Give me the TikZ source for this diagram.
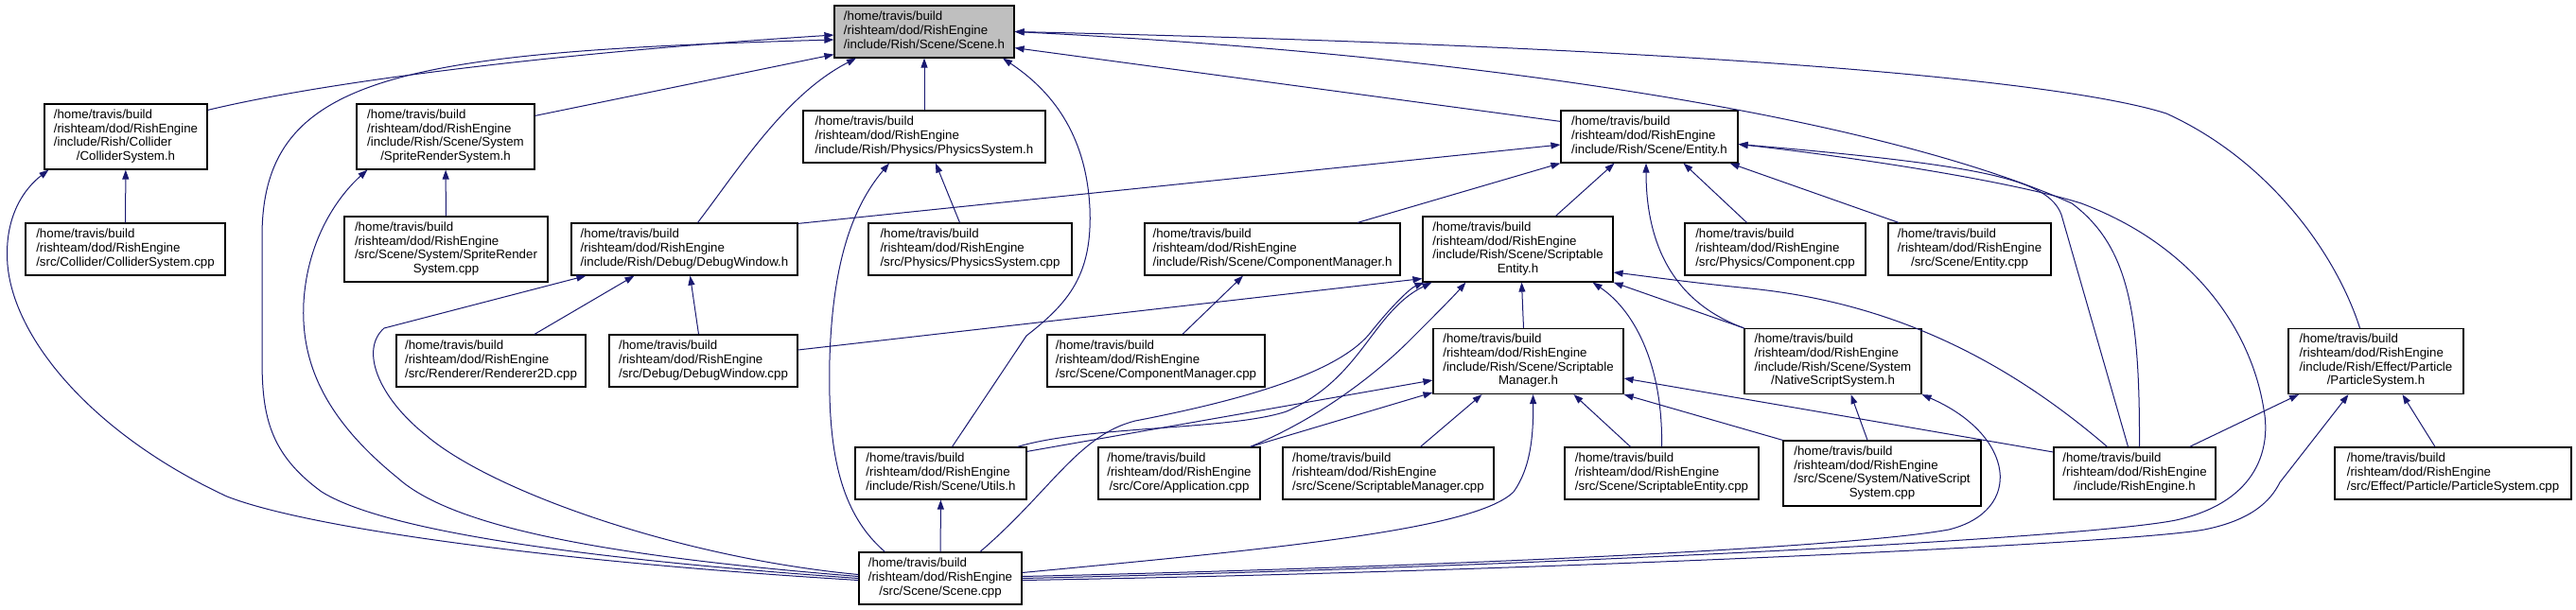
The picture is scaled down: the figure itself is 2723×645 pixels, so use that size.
\documentclass[tikz,border=0pt]{standalone}
\usepackage{fontspec}
\setmainfont{Liberation Sans}
\usetikzlibrary{arrows.meta}
\definecolor{edgeblue}{HTML}{191970}
\definecolor{rootgray}{HTML}{BFBFBF}
\newcommand{\fpath}[2]{\begin{tabular}{@{}l@{}}/home/travis/build\\/rishteam/dod/RishEngine#1\\\multicolumn{1}{@{}c@{}}{#2}\end{tabular}}

\begin{document}
\begin{tikzpicture}[x=1pt,y=-1pt,font=\fontsize{13.3}{14.7}\selectfont,
  file/.style={draw=black,line width=1.2pt,fill=white,inner xsep=6pt,inner ysep=4pt,minimum height=55pt},
  tall/.style={minimum height=69pt},
  dep/.style={draw=edgeblue,line width=1pt,-{Triangle[length=10pt,width=7pt]}}]
\useasboundingbox (0,0) rectangle (2723,645);
% root
\node[file,fill=rootgray,minimum width=190pt] (sceneh) at (977,33.5) {\fpath{}{/include/Rish/Scene/Scene.h}};
% row 1
\node[file,tall,minimum width=172pt] (colliderh) at (133,144.5) {\fpath{\\/include/Rish/Collider}{/ColliderSystem.h}};
\node[file,tall,minimum width=188pt] (spriteh) at (471,144.5) {\fpath{\\/include/Rish/Scene/System}{/SpriteRenderSystem.h}};
\node[file,minimum width=256pt] (physicsh) at (977,144.5) {\fpath{}{/include/Rish/Physics/PhysicsSystem.h}};
\node[file,minimum width=187pt] (entityh) at (1743.5,144.5) {\fpath{}{/include/Rish/Scene/Entity.h}};
% row 2
\node[file,minimum width=211pt] (collidercpp) at (132.5,263.5) {\fpath{}{/src/Collider/ColliderSystem.cpp}};
\node[file,tall,minimum width=215pt] (spritecpp) at (471.5,263.5) {\fpath{\\/src/Scene/System/SpriteRender}{System.cpp}};
\node[file,minimum width=239pt] (debugh) at (723.5,263.5) {\fpath{}{/include/Rish/Debug/DebugWindow.h}};
\node[file,minimum width=215pt] (physicscpp) at (1025.5,263.5) {\fpath{}{/src/Physics/PhysicsSystem.cpp}};
\node[file,minimum width=270pt] (compmgrh) at (1345,263.5) {\fpath{}{/include/Rish/Scene/ComponentManager.h}};
\node[file,tall,minimum width=201pt] (scriptenth) at (1604.5,263.5) {\fpath{\\/include/Rish/Scene/Scriptable}{Entity.h}};
\node[file,minimum width=191pt] (componentcpp) at (1876.5,263.5) {\fpath{}{/src/Physics/Component.cpp}};
\node[file,minimum width=172pt] (entitycpp) at (2082,263.5) {\fpath{}{/src/Scene/Entity.cpp}};
% row 3
\node[file,minimum width=200pt] (renderercpp) at (519,381.5) {\fpath{}{/src/Renderer/Renderer2D.cpp}};
\node[file,minimum width=199pt] (debugcpp) at (743.5,381.5) {\fpath{}{/src/Debug/DebugWindow.cpp}};
\node[file,minimum width=230pt] (compmgrcpp) at (1222,381.5) {\fpath{}{/src/Scene/ComponentManager.cpp}};
\node[file,tall,minimum width=201pt] (scriptmgrh) at (1615.5,382) {\fpath{\\/include/Rish/Scene/Scriptable}{Manager.h}};
\node[file,tall,minimum width=187pt] (nativeh) at (1937.5,382) {\fpath{\\/include/Rish/Scene/System}{/NativeScriptSystem.h}};
\node[file,tall,minimum width=185pt] (particleh) at (2511.5,382) {\fpath{\\/include/Rish/Effect/Particle}{/ParticleSystem.h}};
% row 4
\node[file,minimum width=181pt] (utilsh) at (994.5,500.5) {\fpath{}{/include/Rish/Scene/Utils.h}};
\node[file,minimum width=171pt] (appcpp) at (1246.5,500.5) {\fpath{}{/src/Core/Application.cpp}};
\node[file,minimum width=223pt] (scriptmgrcpp) at (1467.5,500.5) {\fpath{}{/src/Scene/ScriptableManager.cpp}};
\node[file,minimum width=205pt] (scriptentcpp) at (1756.5,500.5) {\fpath{}{/src/Scene/ScriptableEntity.cpp}};
\node[file,tall,minimum width=209pt] (nativecpp) at (1989.5,500.5) {\fpath{\\/src/Scene/System/NativeScript}{System.cpp}};
\node[file,minimum width=171pt] (rishh) at (2256.5,500.5) {\fpath{}{/include/RishEngine.h}};
\node[file,minimum width=250pt] (particlecpp) at (2593,500.5) {\fpath{}{/src/Effect/Particle/ParticleSystem.cpp}};
% row 5
\node[file,minimum width=172pt] (scenecpp) at (994,611.5) {\fpath{}{/src/Scene/Scene.cpp}};

% into Scene.h
\draw[dep] ([yshift=-7pt]colliderh.north east) .. controls (350,85) and (600,55) .. ([yshift=-3.5pt]sceneh.west);
\draw[dep] (scenecpp.west) .. controls (700,597) and (420,570) .. (340,520) .. controls (285,480) and (277,440) .. (277,380) -- (277,250) .. controls (277,80) and (420,55) .. ([yshift=-8.5pt]sceneh.west);
\draw[dep] ([yshift=-13pt]spriteh.north east) -- ([yshift=4pt]sceneh.south west);
\draw[dep] ([xshift=14pt]debugh.north) .. controls (780,180) and (830,100) .. ([xshift=-72pt]sceneh.south);
\draw[dep] (physicsh) -- (sceneh);
\draw[dep] ([xshift=12pt]utilsh.north) -- (1085,355) .. controls (1130,320) and (1155,290) .. (1152,220) .. controls (1148,140) and (1110,95) .. ([xshift=83pt]sceneh.south);
\draw[dep] ([yshift=-12pt]entityh.north west) -- ([yshift=11pt]sceneh.south east);
\draw[dep] ([xshift=5pt]rishh.north) .. controls (2262,330) and (2250,260) .. (2190,215) .. controls (2000,130) and (1600,60) .. (sceneh.east);
\draw[dep] ([xshift=-17pt]particleh.north) .. controls (2470,270) and (2400,170) .. (2290,120) .. controls (2180,85) and (1800,50) .. (sceneh.east);
% collider, sprite, physics
\draw[dep] (collidercpp) -- (colliderh);
\draw[dep] ([yshift=-2pt]scenecpp.west) .. controls (600,595) and (330,560) .. (240,525) .. controls (100,460) and (15,360) .. (8,280) .. controls (4,230) and (25,200) .. ([xshift=5pt]colliderh.south west);
\draw[dep] (spritecpp) -- (spriteh);
\draw[dep] ([yshift=2pt]scenecpp.west) .. controls (600,585) and (470,550) .. (420,505) .. controls (340,440) and (318,380) .. (321,320) .. controls (325,250) and (360,205) .. ([xshift=12pt]spriteh.south west);
\draw[dep] ([xshift=-11pt]physicscpp.north) -- ([xshift=12pt]physicsh.south);
\draw[dep] ([xshift=28pt]scenecpp.north west) .. controls (885,540) and (875,470) .. (877,380) .. controls (880,280) and (900,220) .. ([xshift=-37pt]physicsh.south);
% into DebugWindow.h
\draw[dep] ([xshift=46pt]renderercpp.north) -- ([xshift=-53pt]debugh.south);
\draw[dep] ([xshift=-5pt]debugcpp.north) -- ([xshift=6pt]debugh.south);
\draw[dep] ([yshift=4pt]scenecpp.west) .. controls (720,590) and (520,520) .. (450,460) .. controls (400,420) and (380,370) .. (406,347) -- ([xshift=16pt]debugh.south west);
% into Entity.h
\draw[dep] ([yshift=-1pt]debugh.north east) -- ([yshift=-8.5pt]entityh.west);
\draw[dep] ([xshift=90pt]compmgrh.north) -- (entityh.south west);
\draw[dep] ([xshift=40pt]scriptenth.north) -- ([xshift=-37pt]entityh.south);
\draw[dep] (nativeh.north west) .. controls (1770,320) and (1740,260) .. ([xshift=-3.5pt]entityh.south);
\draw[dep] ([xshift=-30pt]componentcpp.north) -- ([xshift=36pt]entityh.south);
\draw[dep] ([xshift=-75pt]entitycpp.north) -- ([xshift=-9pt]entityh.south east);
\draw[dep] ([xshift=-7pt]rishh.north) -- (2179,227) .. controls (2165,190) and (2100,175) .. ([yshift=-8pt]entityh.east);
\draw[dep] (scenecpp.east) .. controls (1600,600) and (2200,570) .. (2300,550) .. controls (2390,530) and (2400,470) .. (2393,433) .. controls (2380,350) and (2320,260) .. (2200,215) .. controls (2120,190) and (1950,165) .. ([yshift=-8pt]entityh.east);
% into ScriptableEntity.h
\draw[dep] ([yshift=11.5pt]debugcpp.east) -- ([yshift=4pt]scriptenth.south west);
\draw[dep] ([xshift=42pt]scenecpp.north) .. controls (1110,520) and (1140,460) .. (1200,445) .. controls (1330,420) and (1420,390) .. (1450,350) .. controls (1470,325) and (1490,305) .. ([xshift=2pt]scriptenth.south west);
\draw[dep] ([xshift=-10pt]utilsh.north east) .. controls (1150,450) and (1300,455) .. (1360,435) .. controls (1440,400) and (1450,330) .. ([xshift=10pt]scriptenth.south west);
\draw[dep] ([xshift=-11pt]appcpp.north east) .. controls (1400,440) and (1460,390) .. (1490,360) .. controls (1515,335) and (1535,315) .. ([xshift=46pt]scriptenth.south west);
\draw[dep] ([xshift=-5pt]scriptmgrh.north) -- ([xshift=4pt]scriptenth.south);
\draw[dep] (scriptentcpp.north) .. controls (1758,390) and (1730,330) .. ([xshift=79pt]scriptenth.south);
\draw[dep] (nativeh.north west) -- (scriptenth.south east);
\draw[dep] ([xshift=-29pt]rishh.north) .. controls (2120,380) and (2000,320) .. (1850,305) .. controls (1780,298) and (1740,292) .. ([yshift=-24.5pt]scriptenth.east);
% into ScriptableManager.h
\draw[dep] ([yshift=-5pt]utilsh.north east) -- ([yshift=-20pt]scriptmgrh.west);
\draw[dep] ([xshift=-11pt]appcpp.north east) -- ([yshift=-33pt]scriptmgrh.west);
\draw[dep] ([xshift=34pt]scriptmgrcpp.north) -- ([xshift=-49pt]scriptmgrh.south);
\draw[dep] ([yshift=6pt]scenecpp.east) .. controls (1350,580) and (1560,560) .. (1600,520) .. controls (1618,495) and (1621,460) .. ([xshift=5pt]scriptmgrh.south);
\draw[dep] ([xshift=-33pt]scriptentcpp.north) -- ([xshift=48pt]scriptmgrh.south);
\draw[dep] (nativecpp.north west) -- (scriptmgrh.south east);
\draw[dep] ([yshift=22.5pt]rishh.west) -- ([yshift=-18pt]scriptmgrh.east);
% into NativeScriptSystem.h
\draw[dep] ([xshift=-15.5pt]nativecpp.north) -- ([xshift=19pt]nativeh.south);
\draw[dep] ([yshift=2pt]scenecpp.east) .. controls (1500,600) and (1950,580) .. (2060,560) .. controls (2140,540) and (2130,460) .. (nativeh.south east);
% into ParticleSystem.h
\draw[dep] ([xshift=58pt]rishh.north) -- ([xshift=-81.5pt]particleh.south);
\draw[dep] ([xshift=-19pt]particlecpp.north) -- ([xshift=28pt]particleh.south);
\draw[dep] ([yshift=-2pt]scenecpp.east) .. controls (1600,605) and (2250,575) .. (2330,560) .. controls (2380,550) and (2400,530) .. (2410,510) -- ([xshift=-29pt]particleh.south);
% the rest
\draw[dep] ([xshift=28pt]compmgrcpp.north) -- ([xshift=-31pt]compmgrh.south);
\draw[dep] (scenecpp) -- (utilsh);
\end{tikzpicture}
\end{document}
